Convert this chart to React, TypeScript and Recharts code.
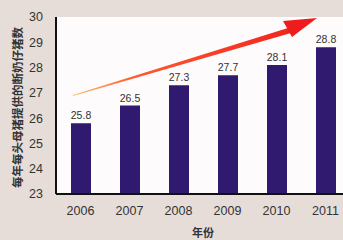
import { BarChart, Bar, XAxis, YAxis, CartesianGrid, LabelList, Label } from "recharts";

const years = ["2006", "2007", "2008", "2009", "2010", "2011"];
const piglets = [25.8, 26.5, 27.3, 27.7, 28.1, 28.8];
const yTicks = [23, 24, 25, 26, 27, 28, 29, 30];

const data = years.map((year, i) => ({ year, value: piglets[i] }));

const FONT = "'Liberation Sans', Arial, sans-serif";

export default function App() {
  return (
    <div
      style={{
        position: "absolute",
        left: 0,
        top: 0,
        width: 343,
        height: 240,
        overflow: "hidden",
        background: "#e6ddd9",
        fontFamily: FONT
      }}
    >
      <BarChart
        width={360}
        height={240}
        data={data}
        margin={{ top: 17, right: 10, left: 0, bottom: 16 }}
        barSize={20}
      >
        <CartesianGrid fill="#fdfbfb" stroke="none" />
        <XAxis
          dataKey="year"
          axisLine={{ stroke: "#111", strokeWidth: 2 }}
          tickLine={false}
          tickSize={0}
          tickMargin={12}
          height={30}
          tick={{ fill: "#333", fontSize: 12.5, fontFamily: FONT }}
        >
          <Label
            value="年份"
            position="bottom"
            offset={5}
            style={{ fill: "#333", fontSize: 11, fontWeight: "bold", fontFamily: "'Noto Sans CJK SC'" }}
          />
        </XAxis>
        <YAxis
          domain={[23, 30]}
          ticks={yTicks}
          allowDataOverflow
          width={56}
          axisLine={{ stroke: "#111", strokeWidth: 2 }}
          tickLine={false}
          tickSize={0}
          tickMargin={13}
          tick={{ fill: "#333", fontSize: 12.5, fontFamily: FONT }}
        >
          <Label
            value="每年每头母猪提供的断奶仔猪数"
            angle={-90}
            position="center"
            dx={-10}
            dy={2}
            style={{
              fill: "#333",
              fontSize: 11.5,
              fontWeight: "bold",
              fontFamily: "'Noto Sans CJK SC'",
              textAnchor: "middle"
            }}
          />
        </YAxis>
        <Bar dataKey="value" fill="#2f1a70" isAnimationActive={false}>
          <LabelList
            dataKey="value"
            position="top"
            offset={4}
            style={{ fill: "#333", fontSize: 10.5, fontFamily: FONT }}
          />
        </Bar>
      </BarChart>
      <svg
        width={343}
        height={240}
        style={{ position: "absolute", left: 0, top: 0, pointerEvents: "none" }}
      >
        <defs>
          <linearGradient id="arrowGrad" x1="73" y1="95" x2="317" y2="18" gradientUnits="userSpaceOnUse">
            <stop offset="0" stopColor="#ffc070" />
            <stop offset="0.25" stopColor="#ff5a30" />
            <stop offset="1" stopColor="#ee1c1c" />
          </linearGradient>
        </defs>
        <polygon points="73,95 288,28 291,33 73,96" fill="url(#arrowGrad)" />
        <polygon points="317,18 283,21 292,37" fill="#ee1c1c" />
      </svg>
    </div>
  );
}
